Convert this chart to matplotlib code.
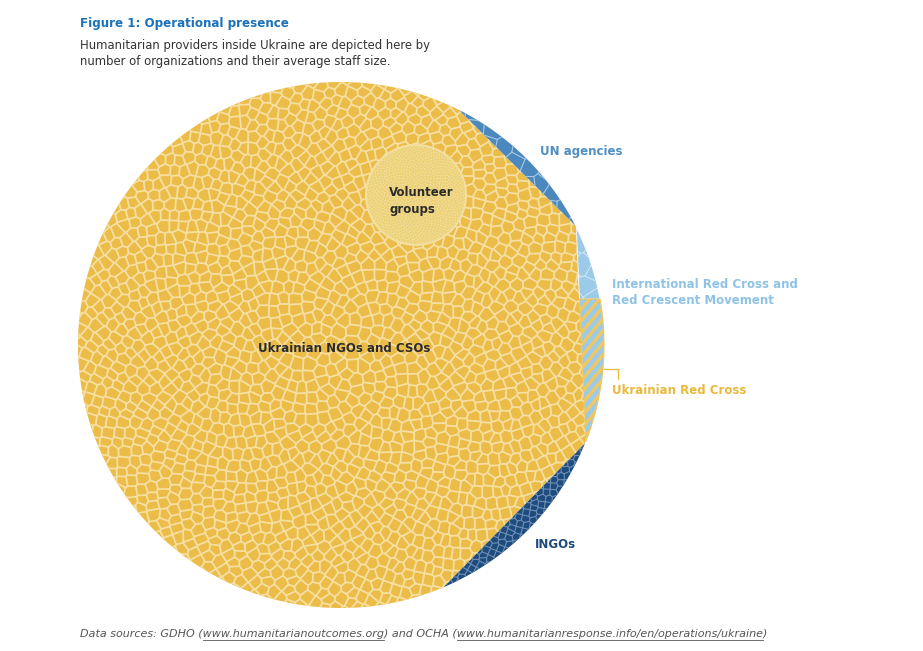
import numpy as np
import matplotlib.pyplot as plt
import matplotlib.tri as mtri
from matplotlib.patches import Polygon, Circle
from matplotlib.collections import LineCollection

# share of total staff (area of the circle) and number of organizations (cells)
groups = ["Ukrainian NGOs and CSOs", "Volunteer groups", "UN agencies",
          "International Red Cross and Red Crescent Movement",
          "Ukrainian Red Cross", "INGOs"]
staff_share = [0.9297, 0.0361, 0.0067, 0.0040, 0.0111, 0.0125]
org_count = [1800, 1000, 5, 3, 1, 60]

fills = ["#ecbc48", "#ebcf72", "#4b88bd", "#9ccbea", "#9ccbea", "#1f4c7e"]
cell_lines = ["#f6dfa2", "#f4e3a8", "#a9c9e6", "#d8ecf8", "#d8ecf8", "#6f8fb6"]

# layout of the big circle (pixel coordinates)
cx, cy, R = 341, 345, 263
total_area = np.pi * R ** 2
mid_angle = {"UN agencies": 45.2, "redcross": 2.5, "INGOs": -44.5}
vol_center = (416, 195)

fig = plt.figure(figsize=(9.23, 6.51), dpi=100)
ax = fig.add_axes([0, 0, 1, 1])
ax.set_xlim(0, 923)
ax.set_ylim(651, 0)
ax.axis("off")


def seg_span(share):
    lo, hi = 0.0, np.pi
    for _ in range(60):
        m = (lo + hi) / 2
        if (m - np.sin(m)) / (2 * np.pi) < share:
            lo = m
        else:
            hi = m
    return lo


def arc(a0, a1, n=200):
    a = np.linspace(a0, a1, n)
    return np.column_stack([cx + R * np.cos(a), cy - R * np.sin(a)])


def poly_area(p):
    x, y = p[:, 0], p[:, 1]
    return 0.5 * abs(np.dot(x, np.roll(y, 1)) - np.dot(y, np.roll(x, 1)))


def clip_above(p, ys, keep_above=True):
    out = []
    n = len(p)
    for i in range(n):
        a, b = p[i], p[(i + 1) % n]
        ina = a[1] <= ys if keep_above else a[1] >= ys
        inb = b[1] <= ys if keep_above else b[1] >= ys
        if ina:
            out.append(a)
        if ina != inb:
            t = (ys - a[1]) / (b[1] - a[1])
            out.append(a + t * (b - a))
    return np.array(out)


def sunflower(n, rad, x0, y0, spacing):
    i = np.arange(n) + 0.5
    r = rad * (i / n) ** 0.48
    th = i * np.pi * (3 - np.sqrt(5))
    # small deterministic wobble so the cells do not look like a perfect spiral
    jx = (i * 0.7548776662) % 1 - 0.5
    jy = (i * 0.5698402910) % 1 - 0.5
    return x0 + r * np.cos(th) + 0.45 * spacing * jx, y0 + r * np.sin(th) + 0.45 * spacing * jy


def voronoi_segs(x, y, maxlen):
    tri = mtri.Triangulation(x, y)
    t = tri.triangles
    A = np.column_stack([x[t[:, 0]], y[t[:, 0]]])
    B = np.column_stack([x[t[:, 1]], y[t[:, 1]]])
    C = np.column_stack([x[t[:, 2]], y[t[:, 2]]])
    d = 2 * (A[:, 0] * (B[:, 1] - C[:, 1]) + B[:, 0] * (C[:, 1] - A[:, 1]) + C[:, 0] * (A[:, 1] - B[:, 1]))
    a2, b2, c2 = (A ** 2).sum(1), (B ** 2).sum(1), (C ** 2).sum(1)
    ux = (a2 * (B[:, 1] - C[:, 1]) + b2 * (C[:, 1] - A[:, 1]) + c2 * (A[:, 1] - B[:, 1])) / d
    uy = (a2 * (C[:, 0] - B[:, 0]) + b2 * (A[:, 0] - C[:, 0]) + c2 * (B[:, 0] - A[:, 0])) / d
    cc = np.column_stack([ux, uy])
    ii = np.repeat(np.arange(len(t)), 3)
    jj = tri.neighbors.ravel()
    m = jj > ii
    segs = np.stack([cc[ii[m]], cc[jj[m]]], axis=1)
    ln = np.hypot(*(segs[:, 1] - segs[:, 0]).T)
    return segs[ln < maxlen]


def add_cells(patch, count, area, color, lw, x0, y0, cover, z):
    cell_area = area / count
    n = int(np.pi * cover ** 2 / cell_area)
    sp = np.sqrt(cell_area)
    x, y = sunflower(n, cover, x0, y0, sp)
    segs = voronoi_segs(x, y, 6 * sp)
    lc = LineCollection(segs, colors=color, linewidths=lw, zorder=z, capstyle="round")
    ax.add_collection(lc)
    lc.set_clip_path(patch)


# circular segments on the rim
spans = {
    "UN agencies": seg_span(staff_share[2]),
    "redcross": seg_span(staff_share[3] + staff_share[4]),
    "INGOs": seg_span(staff_share[5]),
}
rng = {}
for k, s in spans.items():
    m = np.radians(mid_angle[k])
    rng[k] = (m - s / 2, m + s / 2)

un0, un1 = rng["UN agencies"]
rc0, rc1 = rng["redcross"]
in0, in1 = rng["INGOs"]

main_poly = np.vstack([arc(un1, in0 + 2 * np.pi, 600), arc(in1, rc0, 5), arc(rc1, un0, 10)])
main_patch = Polygon(main_poly, closed=True, facecolor=fills[0], edgecolor="none", zorder=2)
ax.add_patch(main_patch)
add_cells(main_patch, org_count[0], staff_share[0] * total_area, cell_lines[0], 1.3, cx, cy, R + 30, 3)

un_poly = arc(un0, un1, 120)
un_patch = Polygon(un_poly, closed=True, facecolor=fills[2], edgecolor="none", zorder=2)
ax.add_patch(un_patch)
add_cells(un_patch, org_count[2], staff_share[2] * total_area, cell_lines[2], 0.8, cx, cy, R + 30, 3)

in_poly = arc(in0, in1, 120)
in_patch = Polygon(in_poly, closed=True, facecolor=fills[5], edgecolor="none", zorder=2)
ax.add_patch(in_patch)
add_cells(in_patch, org_count[5], staff_share[5] * total_area, cell_lines[5], 0.8, cx, cy, R + 30, 3)

# red cross segment split into the movement (top) and the Ukrainian Red Cross (bottom)
rc_poly = arc(rc0, rc1, 160)
target = staff_share[3] * total_area
lo, hi = rc_poly[:, 1].min(), rc_poly[:, 1].max()
for _ in range(50):
    ys = (lo + hi) / 2
    if poly_area(clip_above(rc_poly, ys)) < target:
        lo = ys
    else:
        hi = ys
irc_poly = clip_above(rc_poly, ys)
urc_poly = clip_above(rc_poly, ys, keep_above=False)

irc_patch = Polygon(irc_poly, closed=True, facecolor=fills[3], edgecolor="white", lw=0.6, zorder=2)
ax.add_patch(irc_patch)
add_cells(irc_patch, org_count[3], staff_share[3] * total_area, cell_lines[3], 0.6, cx, cy, R + 30, 3)

urc_patch = Polygon(urc_poly, closed=True, facecolor=fills[4], edgecolor="#f2c75c", lw=0.8, zorder=2)
ax.add_patch(urc_patch)
x_min, x_max = urc_poly[:, 0].min() - 40, urc_poly[:, 0].max() + 10
y_top, y_bot = urc_poly[:, 1].min(), urc_poly[:, 1].max()
stripes = []
for y0 in np.arange(y_top - 60, y_bot + 80, 12):
    stripes.append([(x_min, y0), (x_max, y0 - (x_max - x_min) * 1.2)])
sl = LineCollection(stripes, colors="#f2c75c", linewidths=2.3, zorder=3)
ax.add_collection(sl)
sl.set_clip_path(urc_patch)

# volunteer groups circle inside the Ukrainian NGOs
r_vol = np.sqrt(staff_share[1] * total_area / np.pi)
vol = Circle(vol_center, r_vol, facecolor=fills[1], edgecolor="#f3dfa0", lw=1.5, zorder=4)
ax.add_patch(vol)
add_cells(vol, org_count[1], staff_share[1] * total_area, cell_lines[1], 0.35,
          vol_center[0], vol_center[1], r_vol + 8, 5)

# labels
lab = dict(fontsize=8.5, fontweight="bold", zorder=10)
ax.text(344, 348, "Ukrainian NGOs and CSOs", color="#2b2b2b", ha="center", va="center", **lab)
ax.text(389, 193, "Volunteer", color="#2b2b2b", ha="left", va="center", **lab)
ax.text(389, 209, "groups", color="#2b2b2b", ha="left", va="center", **lab)
ax.text(540, 152, "UN agencies", color="#4f8fc4", ha="left", va="center", **lab)
ax.text(612, 285, "International Red Cross and", color="#8fc3e5", ha="left", va="center", **lab)
ax.text(612, 301, "Red Crescent Movement", color="#8fc3e5", ha="left", va="center", **lab)
ax.text(612, 391, "Ukrainian Red Cross", color="#e8b93a", ha="left", va="center", **lab)
ax.text(535, 545, "INGOs", color="#1d4a7a", ha="left", va="center", **lab)
ax.plot([604, 618, 618], [369, 369, 379], color="#e8b93a", lw=0.9, zorder=10)

# title block
ax.text(80, 24, "Figure 1: Operational presence", color="#1a72b9", fontsize=8.6,
        fontweight="bold", ha="left", va="center")
ax.text(80, 46, "Humanitarian providers inside Ukraine are depicted here by",
        color="#333333", fontsize=8.4, ha="left", va="center")
ax.text(80, 62, "number of organizations and their average staff size.",
        color="#333333", fontsize=8.4, ha="left", va="center")

# source line as one string, links underlined by measuring prefixes
renderer = fig.canvas.get_renderer()
src_parts = ["Data sources: GDHO (", "www.humanitarianoutcomes.org", ") and OCHA (",
             "www.humanitarianresponse.info/en/operations/ukraine", ")"]
src_style = dict(color="#555555", fontsize=8.0, style="italic", ha="left", va="baseline")
ax.text(80, 637, "".join(src_parts), **src_style)


def text_width(s):
    tmp = ax.text(0, 0, s, **src_style)
    w = tmp.get_window_extent(renderer=renderer).width
    tmp.remove()
    return w


for k in (1, 3):
    x0 = 80 + text_width("".join(src_parts[:k]) + "w") - text_width("w")
    x1 = 80 + text_width("".join(src_parts[:k + 1]))
    ax.plot([x0, x1], [639.5, 639.5], color="#555555", lw=0.6)

fig.savefig("out.png", dpi=100)
